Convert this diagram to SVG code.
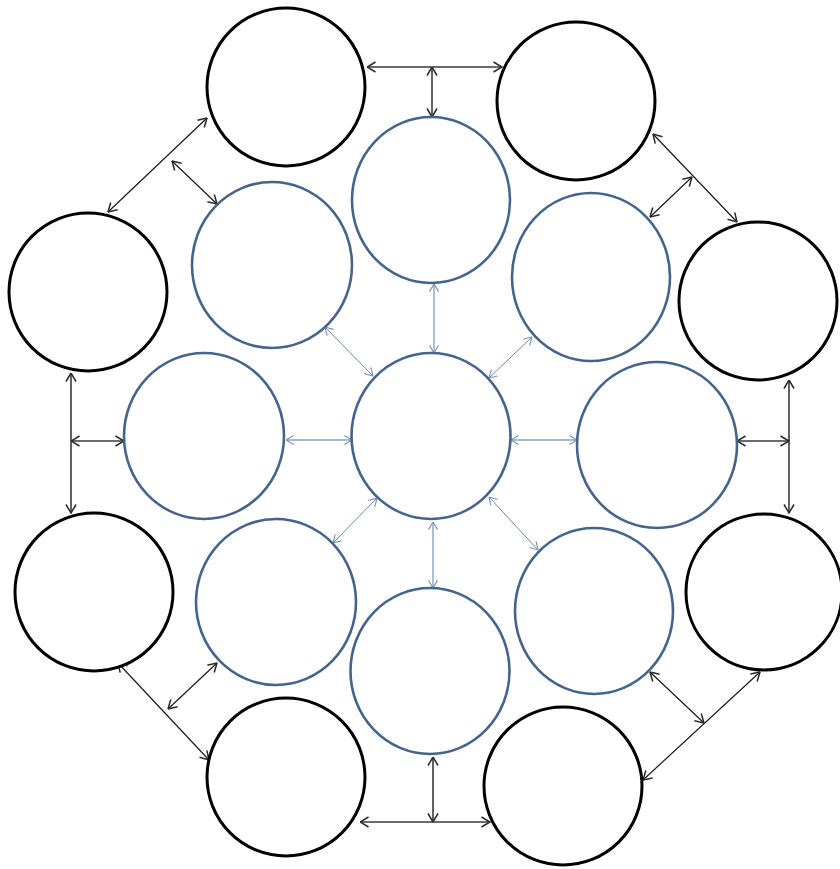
<svg xmlns="http://www.w3.org/2000/svg" width="840" height="869" viewBox="0 0 840 869">
<style>
.outer{fill:#fff;stroke:#000;stroke-width:3}
.inner{fill:#fff;stroke:#46648a;stroke-width:2.6}
.ck{fill:none;stroke:#3a3a3a;stroke-width:1.6}
.ckd{fill:none;stroke:#1a1a1a;stroke-width:1.2}
.cb{fill:none;stroke:#8aa4bf;stroke-width:1.4}
.cbd{fill:none;stroke:#6f86a3;stroke-width:1}
</style>
<defs>
<marker id="ak" viewBox="0 0 10 12" refX="9.5" refY="6" markerWidth="10" markerHeight="12" markerUnits="userSpaceOnUse" orient="auto-start-reverse">
<path d="M1,1 L9.5,6 L1,11" fill="none" stroke="#2a2a2a" stroke-width="1.5"/>
</marker>
<marker id="ab" viewBox="0 0 10 12" refX="9.5" refY="6" markerWidth="9" markerHeight="11" markerUnits="userSpaceOnUse" orient="auto-start-reverse">
<path d="M1,1 L9.5,6 L1,11" fill="none" stroke="#7d97b5" stroke-width="1.3"/>
</marker>
</defs>
<rect width="840" height="869" fill="#fff"/>
<g id="connectors">
<line class="ck" x1="367" y1="67" x2="502" y2="67" marker-start="url(#ak)" marker-end="url(#ak)"/>
<line class="ck" x1="432" y1="67" x2="432" y2="117" marker-start="url(#ak)" marker-end="url(#ak)"/>
<line class="ckd" x1="207" y1="118" x2="108" y2="212" marker-start="url(#ak)" marker-end="url(#ak)"/>
<line class="ckd" x1="172" y1="161" x2="217" y2="204" marker-start="url(#ak)" marker-end="url(#ak)"/>
<line class="ckd" x1="653" y1="134" x2="737" y2="222" marker-start="url(#ak)" marker-end="url(#ak)"/>
<line class="ckd" x1="692" y1="177" x2="650" y2="217" marker-start="url(#ak)" marker-end="url(#ak)"/>
<line class="ck" x1="71" y1="373" x2="71" y2="513" marker-start="url(#ak)" marker-end="url(#ak)"/>
<line class="ck" x1="71" y1="441" x2="124" y2="441" marker-start="url(#ak)" marker-end="url(#ak)"/>
<line class="ck" x1="789" y1="380" x2="789" y2="513" marker-start="url(#ak)" marker-end="url(#ak)"/>
<line class="ck" x1="737" y1="441" x2="789" y2="441" marker-start="url(#ak)" marker-end="url(#ak)"/>
<line class="ckd" x1="118" y1="663" x2="209" y2="760" marker-start="url(#ak)" marker-end="url(#ak)"/>
<line class="ckd" x1="217" y1="663" x2="168" y2="709" marker-start="url(#ak)" marker-end="url(#ak)"/>
<line class="ck" x1="433" y1="757" x2="433" y2="822" marker-start="url(#ak)" marker-end="url(#ak)"/>
<line class="ck" x1="360" y1="822" x2="490" y2="822" marker-start="url(#ak)" marker-end="url(#ak)"/>
<line class="ckd" x1="760" y1="672" x2="643" y2="780" marker-start="url(#ak)" marker-end="url(#ak)"/>
<line class="ckd" x1="650" y1="672" x2="704" y2="723" marker-start="url(#ak)" marker-end="url(#ak)"/>
<line class="cb" x1="434" y1="284" x2="434" y2="353" marker-start="url(#ab)" marker-end="url(#ab)"/>
<line class="cb" x1="286" y1="440" x2="352" y2="440" marker-start="url(#ab)" marker-end="url(#ab)"/>
<line class="cb" x1="511" y1="440" x2="577" y2="440" marker-start="url(#ab)" marker-end="url(#ab)"/>
<line class="cb" x1="433" y1="522" x2="433" y2="588" marker-start="url(#ab)" marker-end="url(#ab)"/>
<line class="cbd" x1="325" y1="327" x2="373" y2="376" marker-start="url(#ab)" marker-end="url(#ab)"/>
<line class="cbd" x1="532" y1="337" x2="489" y2="378" marker-start="url(#ab)" marker-end="url(#ab)"/>
<line class="cbd" x1="377" y1="498" x2="333" y2="543" marker-start="url(#ab)" marker-end="url(#ab)"/>
<line class="cbd" x1="489" y1="497" x2="538" y2="550" marker-start="url(#ab)" marker-end="url(#ab)"/>
</g>
<g id="outer-tl"><circle class="outer" cx="286" cy="87" r="79"/></g>
<g id="outer-tr"><circle class="outer" cx="576" cy="101" r="79"/></g>
<g id="outer-ru"><circle class="outer" cx="758" cy="301" r="79"/></g>
<g id="outer-rl"><circle class="outer" cx="764" cy="592" r="78"/></g>
<g id="outer-br"><circle class="outer" cx="563" cy="786" r="79"/></g>
<g id="outer-bl"><circle class="outer" cx="286" cy="777" r="79"/></g>
<g id="outer-ll"><circle class="outer" cx="94" cy="592" r="79"/></g>
<g id="outer-lu"><circle class="outer" cx="88" cy="292" r="79"/></g>
<g id="inner-top"><ellipse class="inner" cx="431" cy="200" rx="79" ry="83"/></g>
<g id="inner-center"><ellipse class="inner" cx="431" cy="436" rx="79.5" ry="83"/></g>
<g id="inner-tl"><ellipse class="inner" cx="272" cy="265" rx="80" ry="83"/></g>
<g id="inner-tr"><ellipse class="inner" cx="591" cy="277" rx="79" ry="84"/></g>
<g id="inner-l"><ellipse class="inner" cx="204" cy="436" rx="80" ry="83"/></g>
<g id="inner-r"><ellipse class="inner" cx="657" cy="445" rx="80" ry="83"/></g>
<g id="inner-bl"><ellipse class="inner" cx="276" cy="602" rx="80" ry="83"/></g>
<g id="inner-b"><ellipse class="inner" cx="430" cy="671" rx="79.5" ry="83"/></g>
<g id="inner-br"><ellipse class="inner" cx="594" cy="611" rx="79" ry="83"/></g>
</svg>
